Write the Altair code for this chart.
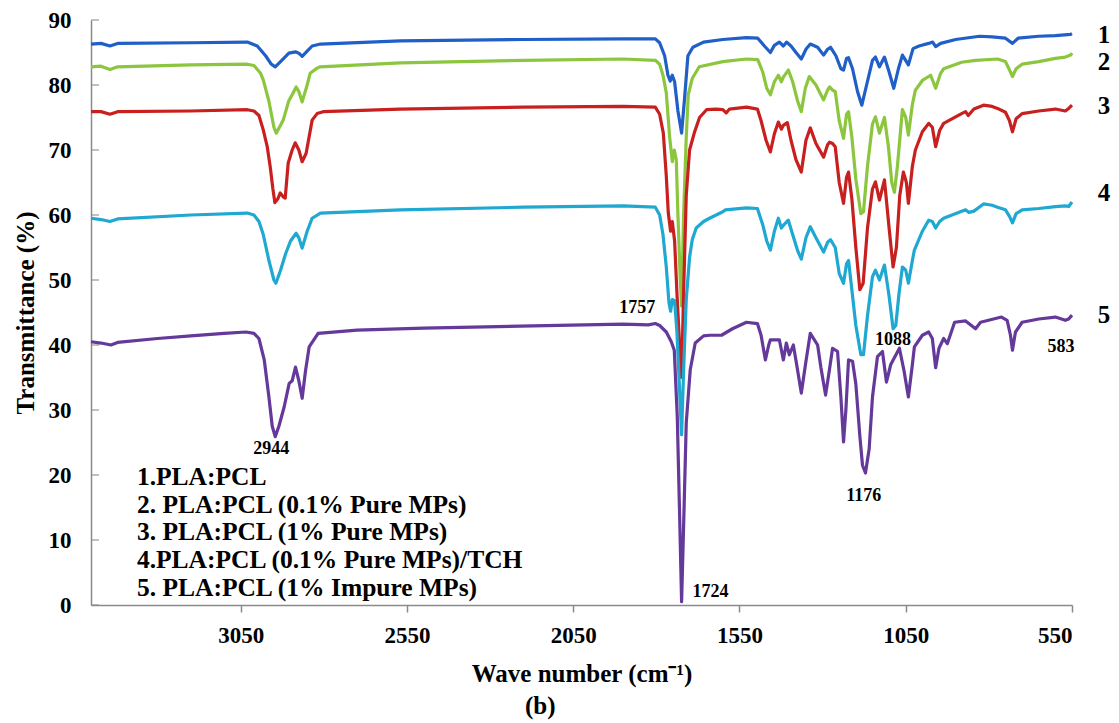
import altair as alt
import pandas as pd

# ---------------- data ----------------
wn1 = [3500, 3470, 3443, 3420, 3200, 3030, 3000, 2975, 2958, 2946, 2930, 2905, 2885, 2875, 2865, 2850, 2835, 2810,
       2570, 2200, 1900, 1803, 1790, 1775, 1765, 1758, 1752, 1745, 1735, 1724, 1715, 1705, 1690, 1658, 1600, 1529,
       1495, 1475, 1457, 1445, 1430, 1418, 1408, 1395, 1380, 1364, 1350, 1337, 1315, 1297, 1285, 1276, 1260, 1245,
       1237, 1228, 1222, 1210, 1195, 1182, 1170, 1150, 1141, 1129, 1114, 1100, 1086, 1072, 1060, 1042, 1028, 1010,
       981, 969, 960, 945, 900, 828, 790, 750, 729, 712, 650, 600, 554, 550]
t1 = [86.3, 86.4, 86.0, 86.4, 86.5, 86.6, 86.0, 84.5, 83.2, 82.8, 83.6, 84.9, 85.1, 84.9, 84.4, 85.2, 86.0, 86.3,
      86.8, 87.0, 87.1, 87.1, 86.5, 84.5, 81.5, 80.6, 81.5, 80.5, 76.0, 72.6, 78.0, 84.5, 85.8, 86.6, 87.0, 87.3,
      87.2, 86.0, 85.0, 86.1, 86.6, 86.0, 86.6, 86.0, 85.0, 84.0, 85.5, 86.3, 85.8, 84.6, 85.5, 85.8, 84.5, 82.5,
      82.3, 84.1, 84.2, 82.5, 79.0, 76.9, 79.5, 83.8, 84.3, 82.8, 84.3, 82.0, 79.5, 82.5, 84.6, 83.1, 85.6, 86.0,
      86.4, 86.6, 85.9, 86.4, 87.0, 87.5, 87.4, 87.2, 86.4, 87.2, 87.5, 87.6, 87.8, 87.9]

wn2 = [3500, 3470, 3443, 3420, 3200, 3030, 3010, 2990, 2982, 2965, 2950, 2943, 2930, 2922, 2905, 2895, 2883, 2875,
       2865, 2850, 2841, 2820, 2811, 2570, 2200, 1900, 1803, 1790, 1780, 1770, 1760, 1752, 1746, 1740, 1735, 1728,
       1724, 1718, 1710, 1704, 1692, 1671, 1600, 1529, 1495, 1480, 1468, 1457, 1445, 1433, 1424, 1418, 1403, 1390,
       1375, 1364, 1352, 1340, 1320, 1297, 1285, 1279, 1270, 1262, 1250, 1237, 1228, 1222, 1212, 1200, 1185, 1177,
       1165, 1150, 1141, 1129, 1114, 1102, 1092, 1084, 1075, 1060, 1050, 1042, 1030, 1021, 1000, 975, 960, 945, 936,
       882, 840, 774, 750, 735, 729, 718, 700, 650, 600, 570, 554, 550]
t2 = [82.8, 82.9, 82.4, 82.8, 83.1, 83.2, 83.0, 81.8, 80.8, 77.5, 73.5, 72.6, 73.8, 74.6, 77.6, 78.5, 79.7, 79.0,
      77.4, 80.0, 81.8, 82.6, 82.8, 83.4, 83.8, 84.0, 83.8, 83.2, 81.5, 78.8, 72.0, 68.2, 70.0, 68.5, 60.0, 50.0,
      46.0, 60.0, 72.0, 78.5, 81.0, 82.8, 83.6, 84.0, 83.9, 82.0, 79.5, 78.5, 80.5, 81.5, 80.5, 81.2, 82.3, 80.5,
      77.5, 75.9, 79.5, 81.3, 80.0, 77.7, 79.2, 79.7, 79.2, 79.0, 74.5, 71.8, 75.5, 75.9, 72.0, 65.5, 60.2, 60.5,
      67.5, 74.0, 75.1, 72.6, 75.0, 70.5, 65.0, 63.5, 67.5, 76.2, 75.0, 72.3, 77.0, 79.2, 80.7, 81.5, 79.5, 81.8, 82.5,
      83.5, 83.8, 84.0, 83.6, 82.0, 81.3, 82.5, 83.2, 83.6, 84.1, 84.3, 84.6, 84.9]

wn3 = [3500, 3470, 3443, 3420, 3200, 3030, 3010, 2995, 2982, 2970, 2961, 2953, 2947, 2938, 2931, 2922, 2916, 2907,
       2895, 2886, 2875, 2865, 2853, 2835, 2820, 2802, 2570, 2200, 1900, 1803, 1790, 1779, 1770, 1764, 1757, 1752,
       1745, 1738, 1730, 1724, 1718, 1710, 1700, 1686, 1670, 1649, 1620, 1600, 1590, 1580, 1529, 1496, 1485, 1470,
       1457, 1445, 1433, 1424, 1418, 1406, 1395, 1380, 1364, 1350, 1337, 1320, 1297, 1285, 1279, 1270, 1262, 1250,
       1237, 1228, 1222, 1212, 1200, 1188, 1178, 1165, 1150, 1141, 1129, 1114, 1100, 1088, 1078, 1068, 1057, 1048,
       1042, 1030, 1021, 1000, 981, 970, 960, 948, 936, 882, 870, 862, 845, 816, 790, 774, 750, 738, 729, 718, 700,
       650, 600, 570, 560, 550]
t3 = [75.9, 75.9, 75.5, 75.9, 76.0, 76.2, 76.0, 75.3, 73.1, 70.5, 67.4, 64.0, 61.9, 62.5, 63.4, 62.8, 62.6, 68.0,
      70.0, 71.1, 70.0, 68.2, 69.5, 74.6, 75.6, 75.9, 76.3, 76.6, 76.7, 76.6, 75.5, 72.6, 66.0, 60.3, 57.5, 59.0,
      56.0, 48.0, 40.0, 35.0, 48.0, 63.0, 70.0, 72.6, 75.0, 76.2, 76.3, 76.2, 75.7, 76.3, 76.6, 76.3, 74.5, 71.5,
      69.7, 72.5, 74.3, 73.2, 73.8, 74.2, 71.5, 68.5, 66.6, 71.5, 73.4, 71.0, 68.9, 70.8, 71.2, 71.0, 70.5, 65.0,
      61.8, 65.8, 66.6, 62.5, 55.0, 48.5, 49.5, 58.0, 64.0, 65.1, 62.3, 65.4, 58.0, 52.0, 55.0, 63.0, 66.6, 65.0,
      61.8, 67.5, 70.0, 72.8, 74.1, 73.5, 70.5, 73.0, 74.1, 75.6, 75.9, 75.3, 76.3, 76.9, 76.7, 76.4, 75.8, 74.5,
      72.8, 74.8, 75.6, 76.0, 76.3, 76.0, 76.4, 76.9]

wn4 = [3500, 3470, 3443, 3420, 3200, 3030, 3010, 2995, 2982, 2965, 2950, 2944, 2930, 2915, 2900, 2883, 2875, 2865,
       2850, 2835, 2810, 2570, 2200, 1900, 1803, 1790, 1780, 1770, 1762, 1757, 1752, 1745, 1738, 1730, 1724, 1718,
       1710, 1700, 1692, 1680, 1658, 1640, 1600, 1592, 1529, 1496, 1480, 1468, 1457, 1445, 1433, 1424, 1418, 1403,
       1390, 1375, 1364, 1350, 1337, 1320, 1297, 1285, 1276, 1262, 1250, 1237, 1228, 1222, 1212, 1200, 1185, 1177,
       1165, 1150, 1141, 1129, 1114, 1100, 1088, 1080, 1070, 1060, 1050, 1042, 1030, 1024, 1000, 981, 970, 960, 948,
       936, 870, 860, 845, 816, 790, 774, 750, 738, 729, 718, 700, 650, 600, 570, 560, 550]
t4 = [59.5, 59.3, 59.0, 59.4, 60.0, 60.3, 60.0, 59.0, 57.0, 53.0, 50.0, 49.5, 51.5, 54.0, 56.0, 57.2, 56.5, 54.9,
      57.5, 59.5, 60.3, 60.8, 61.2, 61.4, 61.2, 60.0, 57.0, 52.0, 46.5, 45.2, 47.0, 46.8, 42.0, 33.0, 26.2, 36.0,
      47.0, 53.5, 56.2, 58.0, 59.0, 59.5, 60.5, 60.8, 61.1, 61.0, 58.5, 56.0, 54.6, 57.5, 59.5, 58.0, 58.4, 59.2,
      57.0, 54.5, 53.2, 56.5, 58.2, 56.5, 54.3, 55.8, 56.2, 55.0, 51.0, 49.5, 52.5, 53.0, 48.5, 43.0, 38.5, 38.5,
      44.5, 50.5, 51.5, 50.0, 52.3, 47.5, 42.5, 43.0, 48.0, 52.0, 51.5, 49.5, 53.0, 54.6, 57.5, 59.2, 59.0, 58.0, 59.0,
      59.5, 60.8, 60.4, 60.6, 61.7, 61.5, 61.2, 60.8, 59.8, 58.8, 60.2, 60.8, 61.0, 61.3, 61.4, 61.3, 62.0]

wn5 = [3500, 3470, 3440, 3420, 3300, 3200, 3100, 3034, 3010, 2995, 2979, 2965, 2955, 2946, 2935, 2919, 2904, 2895,
       2885, 2875, 2865, 2855, 2844, 2817, 2700, 2500, 2209, 1900, 1824, 1803, 1790, 1770, 1755, 1746, 1737, 1730,
       1724, 1718, 1710, 1698, 1683, 1658, 1640, 1604, 1571, 1529, 1496, 1485, 1472, 1462, 1457, 1430, 1418, 1409,
       1400, 1388, 1378, 1364, 1350, 1337, 1315, 1305, 1291, 1280, 1270, 1255, 1245, 1237, 1230, 1222, 1210, 1200,
       1188, 1180, 1171, 1160, 1150, 1135, 1120, 1108, 1095, 1069, 1055, 1042, 1030, 1024, 1000, 981, 970, 960, 950,
       936, 925, 903, 870, 840, 825, 762, 745, 735, 729, 720, 700, 650, 600, 570, 560, 550]
t5 = [40.5, 40.3, 40.0, 40.4, 41.0, 41.4, 41.8, 42.0, 41.8, 41.0, 37.7, 32.0, 27.5, 25.9, 27.5, 30.5, 34.1, 34.5,
      36.6, 34.5, 31.8, 36.0, 39.7, 41.8, 42.3, 42.6, 42.9, 43.2, 43.1, 43.3, 43.0, 42.0, 40.5, 39.2, 29.0, 14.0,
      0.5, 12.0, 28.0, 36.2, 40.3, 41.4, 41.5, 41.5, 42.5, 43.5, 43.3, 41.5, 37.7, 40.0, 40.8, 40.8, 37.7, 40.3,
      38.5, 40.0, 37.0, 32.6, 37.5, 41.8, 40.0, 36.5, 32.3, 36.0, 39.5, 39.0, 32.0, 25.1, 30.0, 37.7, 37.5, 34.0,
      26.0, 21.5, 20.3, 24.0, 32.0, 38.2, 39.0, 34.3, 37.0, 39.5, 36.0, 32.0, 37.0, 39.7, 41.5, 42.0, 41.0, 36.5, 39.5,
      41.0, 40.2, 43.5, 43.7, 42.5, 43.5, 44.3, 43.8, 41.5, 39.2, 42.0, 43.5, 44.0, 44.3, 43.8, 44.0, 44.6]

series_ids = ["1", "2", "3", "4", "5"]
series_colors = ["#1F5FC7", "#8CC63F", "#C8201F", "#1FA8D1", "#64399A"]
series_label_t = [87.7, 83.5, 76.8, 63.4, 44.6]

peak_labels = ["2944", "1757", "1724", "1176", "1088", "583"]
peak_label_wn = [2958, 1857, 1637, 1176, 1088, 583]
peak_label_t = [24.0, 45.7, 2.0, 16.8, 40.8, 39.7]

legend_lines = ["1.PLA:PCL", "2. PLA:PCL (0.1% Pure MPs)", "3. PLA:PCL (1% Pure MPs)",
                "4.PLA:PCL (0.1% Pure MPs)/TCH", "5. PLA:PCL (1% Impure MPs)"]
legend_wn = [3362, 3362, 3362, 3362, 3362]
legend_t = [19.7, 15.4, 11.2, 6.9, 2.6]

caption = ["(b)"]
caption_wn = [2149]
caption_t = [-15.6]

x_ticks = [3050, 2550, 2050, 1550, 1050, 550]
y_ticks = [0, 10, 20, 30, 40, 50, 60, 70, 80, 90]

# ---------------- chart ----------------
FONT = "'Times New Roman', 'Liberation Serif', Times, serif"
xscale = alt.Scale(domain=[550, 3500], reverse=True, nice=False, zero=False)
yscale = alt.Scale(domain=[0, 90], nice=False, zero=True)

xaxis = alt.Axis(values=x_ticks, format="d", grid=False, domainColor="#8a8a8a", domainWidth=1.5,
                 tickColor="#8a8a8a", tickWidth=1.5, tickSize=7, labelFont=FONT, labelFontWeight="bold",
                 labelFontSize=23, labelColor="black", labelPadding=12,
                 title="Wave number (cm\u207b\u00b9)", titleFont=FONT,
                 titleFontSize=25, titleFontWeight="bold", titleColor="black", titlePadding=14)
yaxis = alt.Axis(values=y_ticks, format="d", grid=False, domainColor="#8a8a8a", domainWidth=1.5,
                 ticks=False, labelFont=FONT, labelFontWeight="bold", labelFontSize=23,
                 labelColor="black", labelPadding=20, title="Transmittance (%)", titleFont=FONT,
                 titleFontSize=25, titleFontWeight="bold", titleColor="black", titleX=-53)

all_wn = [wn1, wn2, wn3, wn4, wn5]
all_t = [t1, t2, t3, t4, t5]

layers = []
ytick_df = pd.DataFrame({"T": y_ticks})
layers.append(alt.Chart(ytick_df).mark_tick(orient="horizontal", size=8, thickness=1.5, color="#8a8a8a")
              .encode(x=alt.value(4), y=alt.Y("T:Q", scale=yscale, axis=yaxis)))

draw_order = [1, 2, 3, 4, 0]
for i in draw_order:
    df = pd.DataFrame({"wn": all_wn[i], "T": all_t[i], "order": range(len(all_wn[i]))})
    layers.append(
        alt.Chart(df).mark_line(color=series_colors[i], strokeWidth=3.2, strokeJoin="round")
        .encode(x=alt.X("wn:Q", scale=xscale, axis=xaxis),
                y=alt.Y("T:Q", scale=yscale, axis=yaxis),
                order="order:Q")
    )

lab_df = pd.DataFrame({"wn": [550] * 5, "T": series_label_t, "lab": series_ids})
layers.append(alt.Chart(lab_df).mark_text(font=FONT, fontWeight="bold", fontSize=25, dx=32, align="center",
                                          baseline="middle", color="black")
              .encode(x=alt.X("wn:Q", scale=xscale), y=alt.Y("T:Q", scale=yscale), text="lab:N"))

peak_df = pd.DataFrame({"wn": peak_label_wn, "T": peak_label_t, "lab": peak_labels})
layers.append(alt.Chart(peak_df).mark_text(font=FONT, fontWeight="bold", fontSize=18, align="center",
                                           baseline="middle", color="black")
              .encode(x=alt.X("wn:Q", scale=xscale), y=alt.Y("T:Q", scale=yscale), text="lab:N"))

leg_df = pd.DataFrame({"wn": legend_wn, "T": legend_t, "lab": legend_lines})
layers.append(alt.Chart(leg_df).mark_text(font=FONT, fontWeight="bold", fontSize=25.5, align="left",
                                          baseline="middle", color="black")
              .encode(x=alt.X("wn:Q", scale=xscale), y=alt.Y("T:Q", scale=yscale), text="lab:N"))

cap_df = pd.DataFrame({"wn": caption_wn, "T": caption_t, "lab": caption})
layers.append(alt.Chart(cap_df).mark_text(font=FONT, fontWeight="bold", fontSize=25, align="center",
                                          baseline="middle", color="black")
              .encode(x=alt.X("wn:Q", scale=xscale), y=alt.Y("T:Q", scale=yscale), text="lab:N"))

chart = (
    alt.layer(*layers)
    .properties(width=981, height=585, background="white",
                padding={"left": 91, "top": 20, "right": 47, "bottom": 118},
                autosize=alt.AutoSizeParams(type="none"))
    .configure_view(stroke=None)
)

chart.save("out.html", embed_options={"renderer": "svg", "actions": False})
